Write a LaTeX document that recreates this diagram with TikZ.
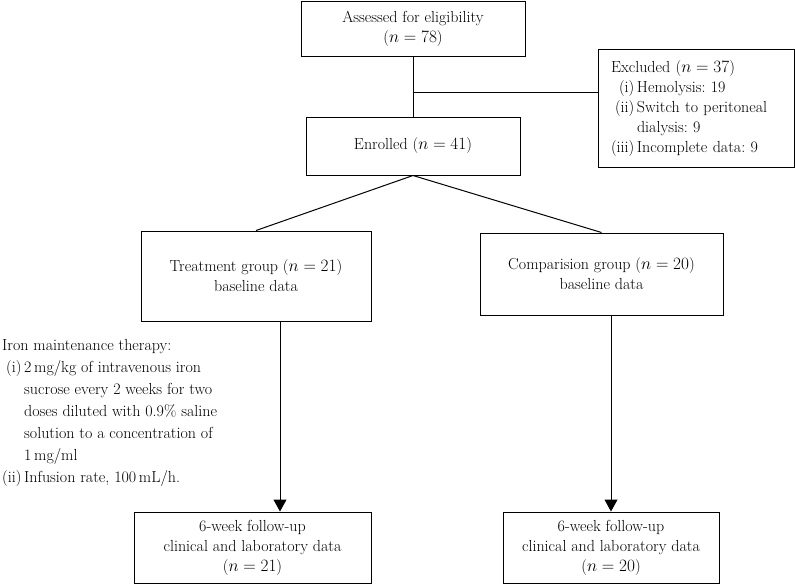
\documentclass[tikz,border=0pt]{standalone}
\usepackage{tikz}
\usetikzlibrary{arrows.meta,calc}
\tikzset{
	box/.style={draw, line width=1pt, align=center, inner sep=0pt, font=\fontsize{16}{20}\selectfont\frenchspacing},
	note/.style={inner sep=0pt, align=left, font=\fontsize{16}{22}\selectfont\frenchspacing},
	arr/.style={line width=1pt, -{Triangle[width=13pt,length=12pt]}}
}

\begin{document}
\begin{tikzpicture}[x=1pt, y=-1pt]
		%%%%% START %%%%%
		\useasboundingbox (0, 0) rectangle (795, 584);
		
		\node[box, minimum width=224, minimum height=55] (assessed) at (413, 28.5) {Assessed for eligibility\\($n = 78$)};
		\node[box, minimum width=214, minimum height=58] (enrolled) at (413, 146) {Enrolled ($n = 41$)};
		\node[box, text width=170, inner xsep=13, minimum height=118, align=left] (excluded) at (696, 108)
			{\begin{tabular}{@{}r@{\,}l@{}}
				\multicolumn{2}{@{}l@{}}{Excluded ($n = 37$)}\\
				(i) & Hemolysis: 19\\
				(ii) & Switch to peritoneal\\
				& dialysis: 9\\
				(iii) & Incomplete data: 9
			\end{tabular}};
		
		\node[box, minimum width=230, minimum height=90] (treat) at (256, 276) {Treatment group ($n = 21$)\\baseline data};
		\node[box, minimum width=243, minimum height=82] (compar) at (601.5, 274) {Comparision group ($n = 20$)\\baseline data};
		
		\node[box, minimum width=237, minimum height=71] (futreat) at (252.5, 547.5) {6-week follow-up\\clinical and laboratory data\\($n = 21$)};
		\node[box, minimum width=216, minimum height=71] (fucompar) at (611, 547.5) {6-week follow-up\\clinical and laboratory data\\($n = 20$)};
		
		\node[note, anchor=base west] (iron) at (2, 350)
			{\begin{tabular}[t]{@{}r@{\,}l@{}}
				\multicolumn{2}{@{}l@{}}{Iron maintenance therapy:}\\
				(i) & 2\,mg/kg of intravenous iron\\
				& sucrose every 2 weeks for two\\
				& doses diluted with 0.9\% saline\\
				& solution to a concentration of\\
				& 1\,mg/ml\\
				(ii) & Infusion rate, 100\,mL/h.
			\end{tabular}};
		
		\coordinate (split) at ($(assessed.south)!0.6!(enrolled.north)$);
		\draw[line width=1pt] (assessed) -- (enrolled);
		\draw[line width=1pt] (split) -- (split -| excluded.west);
		
		\draw[line width=1pt] (enrolled.south) -- (treat.north);
		\draw[line width=1pt] (enrolled.south) -- (compar.north);
		
		\draw[arr] ([xshift=24]treat.south) -- ([xshift=24]treat.south |- futreat.north);
		\draw[arr] (compar.south -| fucompar.north) -- (fucompar.north);
		%%%%% END %%%%%
\end{tikzpicture}
\end{document}
